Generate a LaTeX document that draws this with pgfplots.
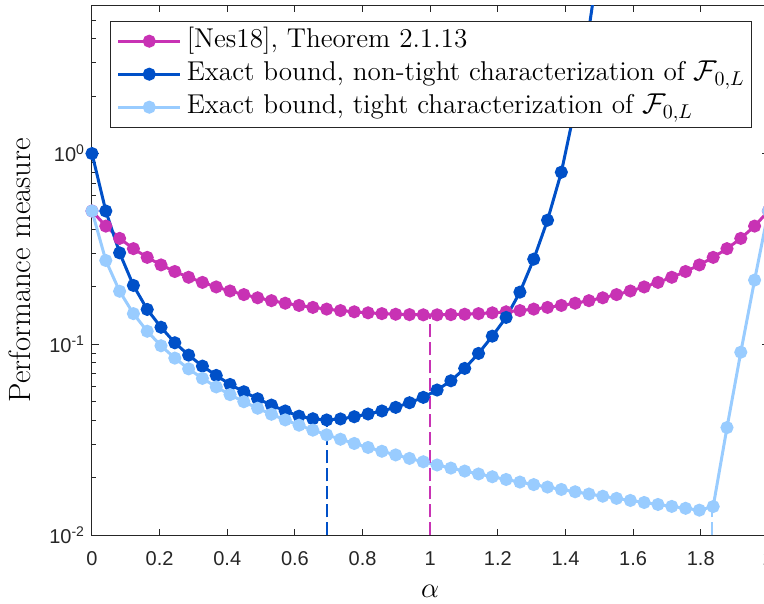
\documentclass[border=0pt]{standalone}
\usepackage{pgfplots}
\pgfplotsset{compat=1.18}
\usepackage{fontspec}
\newfontfamily\tickfont{Liberation Sans}

\definecolor{nesmag}{RGB}{200,50,180}
\definecolor{exblue}{RGB}{0,80,200}
\definecolor{exlight}{RGB}{153,204,255}
\definecolor{axgray}{RGB}{38,38,38}

% Step size alpha = 2k/49, k = 0..49
\pgfplotstableread{
alpha     nes
0.000000  0.50000
0.040816  0.41670
0.081633  0.35932
0.122449  0.31751
0.163265  0.28577
0.204082  0.26092
0.244898  0.24102
0.285714  0.22477
0.326531  0.21132
0.367347  0.20005
0.408163  0.19053
0.448980  0.18242
0.489796  0.17549
0.530612  0.16954
0.571429  0.16443
0.612245  0.16005
0.653061  0.15630
0.693878  0.15311
0.734694  0.15042
0.775510  0.14819
0.816327  0.14638
0.857143  0.14497
0.897959  0.14393
0.938776  0.14324
0.979592  0.14290
1.020408  0.14290
1.061224  0.14324
1.102041  0.14393
1.142857  0.14497
1.183673  0.14638
1.224490  0.14819
1.265306  0.15042
1.306122  0.15311
1.346939  0.15630
1.387755  0.16005
1.428571  0.16443
1.469388  0.16954
1.510204  0.17549
1.551020  0.18242
1.591837  0.19053
1.632653  0.20005
1.673469  0.21132
1.714286  0.22477
1.755102  0.24102
1.795918  0.26092
1.836735  0.28577
1.877551  0.31751
1.918367  0.35932
1.959184  0.41670
2.000000  0.50000
}\nestable

\pgfplotstableread{
alpha     nontight
0.000000  1.0000
0.040816  0.5000
0.081633  0.3018
0.122449  0.2037
0.163265  0.1525
0.204082  0.1230
0.244898  0.1020
0.285714  0.0879
0.326531  0.0770
0.367347  0.0688
0.408163  0.0617
0.448980  0.0565
0.489796  0.0519
0.530612  0.0481
0.571429  0.0448
0.612245  0.0421
0.653061  0.0408
0.693878  0.0402
0.734694  0.0407
0.775510  0.0418
0.816327  0.0432
0.857143  0.0448
0.897959  0.0468
0.938776  0.0495
0.979592  0.0528
1.020408  0.0577
1.061224  0.0645
1.102041  0.0749
1.142857  0.0897
1.183673  0.1105
1.224490  0.1385
1.265306  0.1879
1.306122  0.2797
1.346939  0.4476
1.387755  0.7985
1.428571  1.7500
1.469388  4.5000
1.510204  14.000
}\nontighttable

\pgfplotstableread{
alpha     tight
0.000000  0.500000
0.040816  0.275281
0.081633  0.189922
0.122449  0.144970
0.163265  0.117225
0.204082  0.098394
0.244898  0.084775
0.285714  0.074468
0.326531  0.066396
0.367347  0.059902
0.408163  0.054566
0.448980  0.050102
0.489796  0.046314
0.530612  0.043058
0.571429  0.040230
0.612245  0.037751
0.653061  0.035559
0.693878  0.033607
0.734694  0.031860
0.775510  0.030284
0.816327  0.028857
0.857143  0.027559
0.897959  0.026372
0.938776  0.025284
0.979592  0.024281
1.020408  0.023356
1.061224  0.022498
1.102041  0.021701
1.142857  0.020958
1.183673  0.020265
1.224490  0.019616
1.265306  0.019007
1.306122  0.018435
1.346939  0.017896
1.387755  0.017388
1.428571  0.016908
1.469388  0.016454
1.510204  0.016024
1.551020  0.015615
1.591837  0.015227
1.632653  0.014857
1.673469  0.014506
1.714286  0.014170
1.755102  0.013850
1.795918  0.013543
1.836735  0.014149
1.877551  0.036682
1.918367  0.091043
1.959184  0.217270
2.000000  0.500000
}\tighttable

\begin{document}
\begin{tikzpicture}
\begin{axis}[
  name=main,
  scale only axis,
  width=338.2bp, height=265.15bp,
  xmin=0, xmax=2, ymin=0.01, ymax=6,
  ymode=log,
  xtick={0,0.2,0.4,0.6,0.8,1,1.2,1.4,1.6,1.8,2},
  xticklabels={0,0.2,0.4,0.6,0.8,1,1.2,1.4,1.6,1.8,2},
  ytick={0.01,0.1,1},
  yticklabels={10\textsuperscript{-2},10\textsuperscript{-1},10\textsuperscript{0}},
  minor ytick={0.02,0.03,0.04,0.05,0.06,0.07,0.08,0.09,0.2,0.3,0.4,0.5,0.6,0.7,0.8,0.9,2,3,4,5,6},
  tick align=inside,
  major tick length=3.4bp,
  minor tick length=2bp,
  axis line style={axgray, line width=0.5bp},
  every tick/.style={axgray, line width=0.5bp},
  tick label style={font=\tickfont\fontsize{10bp}{12bp}\selectfont, text=axgray},
  xticklabel style={yshift=-4.5bp},
  xlabel={$\alpha$},
  ylabel={Performance measure},
  label style={font=\fontsize{15.4bp}{18bp}\selectfont},
  xlabel style={at={(axis description cs:0.5,0)}, anchor=center, yshift=-28bp},
  ylabel style={at={(axis description cs:0,0.5)}, anchor=center, yshift=36bp},
  legend cell align=left,
  legend style={at={(0.02617,0.9704)}, anchor=north west,
    draw=axgray, line width=0.5bp, fill=white,
    inner xsep=3.3bp, inner ysep=3.25bp,
    font=\fontsize{13.6bp}{15bp}\selectfont,
    nodes={inner sep=0pt, text height=10bp, text depth=3.5bp},
    row sep=3bp, column sep=2.5bp},
  legend image code/.code={\draw[mark repeat=2,mark phase=2,#1] plot coordinates {(0bp,0bp) (15.5bp,0bp) (31bp,0bp)};},
]
\addplot[nesmag, line width=1.5bp, mark=*, mark size=2.5bp, mark options={solid, fill=nesmag, draw=nesmag}] table[x=alpha, y=nes] {\nestable};
\addlegendentry{[Nes18], Theorem 2.1.13}
\addplot[exblue, line width=1.5bp, mark=*, mark size=2.5bp, mark options={solid, fill=exblue, draw=exblue}] table[x=alpha, y=nontight] {\nontighttable};
\addlegendentry{Exact bound, non-tight characterization of $\mathcal{F}_{0,L}$}
\addplot[exlight, line width=1.5bp, mark=*, mark size=2.5bp, mark options={solid, fill=exlight, draw=exlight}] table[x=alpha, y=tight] {\tighttable};
\addlegendentry{Exact bound, tight characterization of $\mathcal{F}_{0,L}$}

% optimal step sizes
\addplot[nesmag, line width=0.9bp, dash pattern=on 6.5bp off 2.5bp, forget plot] coordinates {(1,0.01) (1,0.14286)};
\addplot[exblue, line width=0.9bp, dash pattern=on 6.5bp off 2.5bp, forget plot] coordinates {(0.693878,0.01) (0.693878,0.0402)};
\addplot[exlight, line width=0.9bp, dash pattern=on 6.5bp off 2.5bp, forget plot] coordinates {(1.834,0.01) (1.834,0.0133)};
\end{axis}
\pgfresetboundingbox
\path[use as bounding box] ([xshift=-46bp,yshift=-34.35bp]main.south west) rectangle ([xshift=-2.2bp,yshift=2.5bp]main.north east);
\end{tikzpicture}
\end{document}
